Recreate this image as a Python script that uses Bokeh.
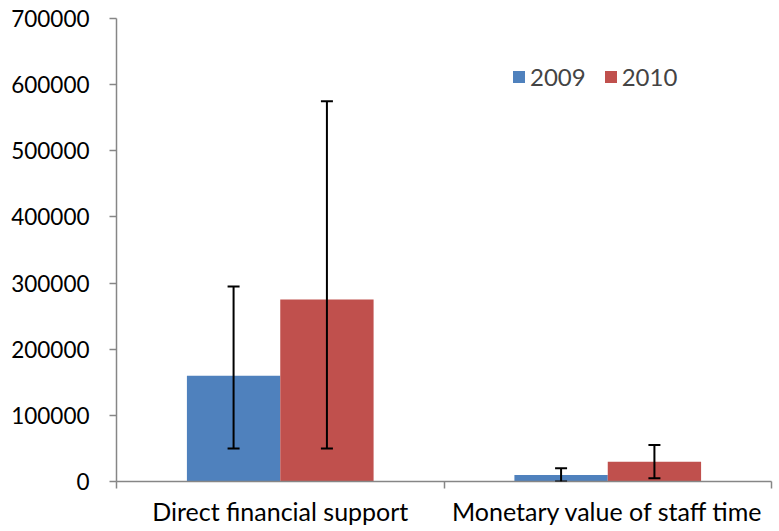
from bokeh.plotting import figure
from bokeh.models import (ColumnDataSource, Range1d, LinearAxis, FixedTicker,
                          Whisker, TeeHead, Legend, LegendItem)
from bokeh.transform import dodge
from bokeh.embed import file_html
from bokeh.resources import INLINE

categories = ["Direct financial support", "Monetary value of staff time"]
years = ["2009", "2010"]
values_2009 = [160000, 10000]
values_2010 = [275000, 30000]
err_low_2009 = [50000, 0]
err_high_2009 = [295000, 20000]
err_low_2010 = [50000, 5000]
err_high_2010 = [575000, 55000]
y_ticks = [0, 100000, 200000, 300000, 400000, 500000, 600000, 700000]

FONT = "Lato"
BLUE = "#4F81BD"
RED = "#C0504D"
AXIS = "#868686"

n = len(categories)
pos = [i + 0.5 for i in range(n)]
src = ColumnDataSource(dict(cat=categories, pos=pos, v09=values_2009, v10=values_2010,
                            lo09=err_low_2009, hi09=err_high_2009,
                            lo10=err_low_2010, hi10=err_high_2010))

p = figure(width=773, height=528, x_range=Range1d(0, n),
           y_range=Range1d(0, 700000), output_backend="svg", toolbar_location=None,
           x_axis_location=None, min_border_left=116, min_border_right=2,
           min_border_top=18, min_border_bottom=0)
p.outline_line_color = None
p.xgrid.visible = False
p.ygrid.visible = False

off = 0.1425
w = 0.285
r09 = p.vbar(x=dodge("pos", -off), top="v09", width=w, source=src,
             fill_color=BLUE, line_color=None)
r10 = p.vbar(x=dodge("pos", off), top="v10", width=w, source=src,
             fill_color=RED, line_color=None)

for lo, hi, o in [("lo09", "hi09", -off), ("lo10", "hi10", off)]:
    wk = Whisker(base=dodge("pos", o), lower=lo, upper=hi, source=src, level="overlay",
                 line_color="black", line_width=2,
                 lower_head=TeeHead(size=12, line_color="black", line_width=2),
                 upper_head=TeeHead(size=12, line_color="black", line_width=2))
    p.add_layout(wk)

# y axis
ya = p.yaxis[0]
ya.ticker = FixedTicker(ticks=y_ticks)
ya.minor_tick_line_color = None
ya.major_tick_in = 0
ya.major_tick_out = 7
ya.axis_line_color = AXIS
ya.major_tick_line_color = AXIS
ya.axis_line_width = 1.5
ya.major_tick_line_width = 1.5
ya.major_label_text_font = FONT
ya.major_label_text_font_size = "22.5px"
ya.major_label_text_color = "black"
ya.major_label_standoff = 20
ya.formatter.use_scientific = False

# x tick axis at category boundaries
bounds = list(range(n + 1))
xb = LinearAxis(ticker=FixedTicker(ticks=bounds),
                major_label_overrides={b: "" for b in bounds},
                major_label_text_font_size="0px", major_label_standoff=0,
                axis_line_color=AXIS, major_tick_line_color=AXIS,
                axis_line_width=1.5, major_tick_line_width=1.5,
                major_tick_in=0, major_tick_out=7, minor_tick_line_color=None)
p.add_layout(xb, "below")

xc = LinearAxis(ticker=FixedTicker(ticks=pos),
                major_label_overrides={pp: c for pp, c in zip(pos, categories)},
                axis_line_color=None, major_tick_line_color=None, minor_tick_line_color=None,
                major_tick_in=0, major_tick_out=0,
                major_label_text_font=FONT, major_label_text_font_size="25px",
                major_label_text_color="black", major_label_standoff=7)
p.add_layout(xc, "below")

legend = Legend(items=[LegendItem(label=years[0], renderers=[r09]),
                       LegendItem(label=years[1], renderers=[r10])],
                orientation="horizontal", location=(395, 390),
                border_line_color=None, background_fill_alpha=0,
                label_text_font=FONT, label_text_font_size="24px",
                glyph_width=15, glyph_height=15, spacing=17, label_standoff=4,
                padding=0, margin=0)
p.add_layout(legend)

open("out.html", "w").write(file_html(p, INLINE))
